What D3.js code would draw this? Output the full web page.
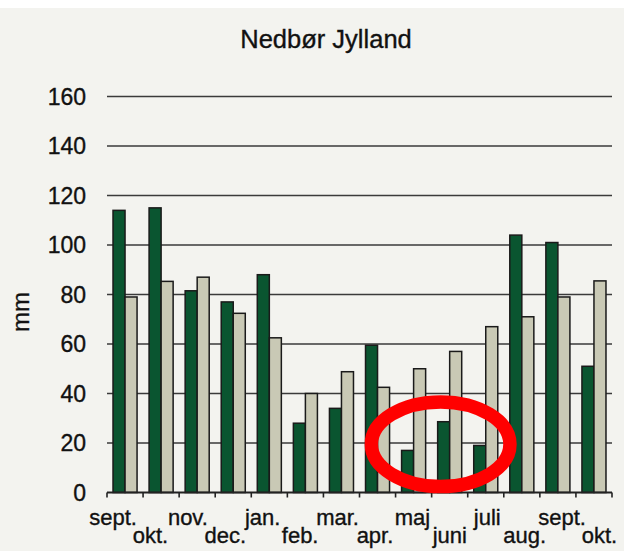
<!DOCTYPE html>
<html lang="da">
<head>
    <meta charset="UTF-8">
    <title>Nedbør Jylland</title>
    <style>
        body {
            margin: 0;
            padding: 0;
            background-color: #ffffff;
        }
        svg {
            display: block;
            font-family: 'Liberation Sans', Arial, sans-serif;
        }
        svg text {
            stroke: #111;
            stroke-width: 0.35px;
        }
    </style>
</head>
<body>
    <svg width="624" height="551"></svg>
    <script src="https://d3js.org/d3.v7.min.js"></script>
    <script>
        const months = ["sept.", "okt.", "nov.", "dec.", "jan.", "feb.", "mar.", "apr.", "maj", "juni", "juli", "aug.", "sept. ", "okt. "];
        const dark = [114, 115, 81.5, 77, 88, 28, 34, 59.5, 17, 28.6, 19, 104, 101, 51];
        const light = [79, 85.3, 87, 72.4, 62.5, 40, 48.8, 42.5, 50, 57, 67, 71, 79, 85.5];
        const yTicks = [0, 20, 40, 60, 80, 100, 120, 140, 160];

        const svg = d3.select("svg");
        const W = 624, H = 551;
        const margin = {top: 96.5, right: 12, bottom: 58.5, left: 107};
        const width = W - margin.left - margin.right;
        const height = H - margin.top - margin.bottom;

        // page background (white strip at the very top)
        svg.append("rect").attr("x", 0).attr("y", 8).attr("width", W).attr("height", H - 8).attr("fill", "#f3f3ef");

        svg.append("text")
            .attr("x", 326).attr("y", 47.5)
            .attr("text-anchor", "middle")
            .attr("font-size", 25.5)
            .attr("fill", "#111")
            .text("Nedbør Jylland");

        const chart = svg.append("g").attr("transform", `translate(${margin.left},${margin.top})`);

        const x0 = d3.scaleBand().domain(months).range([0, width]).paddingInner(1 / 3).paddingOuter(1 / 6);
        const x1 = d3.scaleBand().domain(["dark", "light"]).range([0, x0.bandwidth()]);
        const y = d3.scaleLinear().domain([0, 160]).range([height, 0]);

        // gridlines
        chart.selectAll("line.grid")
            .data(yTicks.slice(1))
            .enter().append("line")
            .attr("class", "grid")
            .attr("x1", 0).attr("x2", width)
            .attr("y1", d => y(d)).attr("y2", d => y(d))
            .attr("stroke", "#3a3a3a")
            .attr("stroke-width", 1.6);

        // y labels
        chart.selectAll("text.ytick")
            .data(yTicks)
            .enter().append("text")
            .attr("class", "ytick")
            .attr("x", -21).attr("y", d => y(d))
            .attr("dy", "0.36em")
            .attr("text-anchor", "end")
            .attr("font-size", 23)
            .attr("fill", "#111")
            .text(d => d);

        svg.append("text")
            .attr("transform", "translate(29,312) rotate(-90)")
            .attr("text-anchor", "middle")
            .attr("font-size", 24)
            .attr("fill", "#111")
            .text("mm");

        // bars
        const groups = chart.selectAll("g.month")
            .data(months.map((m, i) => ({m, dark: dark[i], light: light[i]})))
            .enter().append("g")
            .attr("transform", d => `translate(${x0(d.m)},0)`);

        groups.selectAll("rect")
            .data(d => [{k: "dark", v: d.dark}, {k: "light", v: d.light}])
            .enter().append("rect")
            .attr("x", d => x1(d.k))
            .attr("y", d => y(d.v))
            .attr("width", x1.bandwidth())
            .attr("height", d => y(0) - y(d.v))
            .attr("fill", d => d.k === "dark" ? "#0a5530" : "#c9c9b5")
            .attr("stroke", "#1a1a1a")
            .attr("stroke-width", 1.5);

        // x axis line and ticks
        chart.append("line")
            .attr("x1", 0).attr("x2", width)
            .attr("y1", height).attr("y2", height)
            .attr("stroke", "#222").attr("stroke-width", 1.8);
        const step = x0.step();
        chart.selectAll("line.xtick")
            .data(d3.range(months.length + 1))
            .enter().append("line")
            .attr("x1", i => i * step).attr("x2", i => i * step)
            .attr("y1", height).attr("y2", height + 5)
            .attr("stroke", "#222").attr("stroke-width", 1.6);

        // staggered month labels (spread a little wider than the bars, as in the original)
        chart.selectAll("text.xlab")
            .data(months)
            .enter().append("text")
            .attr("x", (d, i) => x0(d) + x0.bandwidth() / 2 - 12 + i * 1.35)
            .attr("y", (d, i) => height + (i % 2 === 0 ? 32.5 : 50.5))
            .attr("text-anchor", "middle")
            .attr("font-size", 22)
            .attr("fill", "#111")
            .text(d => d.trim());

        // red annotation ellipse around the dry months
        chart.append("ellipse")
            .attr("cx", x0("juni") + 3)
            .attr("cy", y(19.5))
            .attr("rx", 69.3)
            .attr("ry", 42.3)
            .attr("fill", "none")
            .attr("stroke", "#ff0000")
            .attr("stroke-width", 13.5)
            .style("stroke", "#ff0000");
    </script>
</body>
</html>
